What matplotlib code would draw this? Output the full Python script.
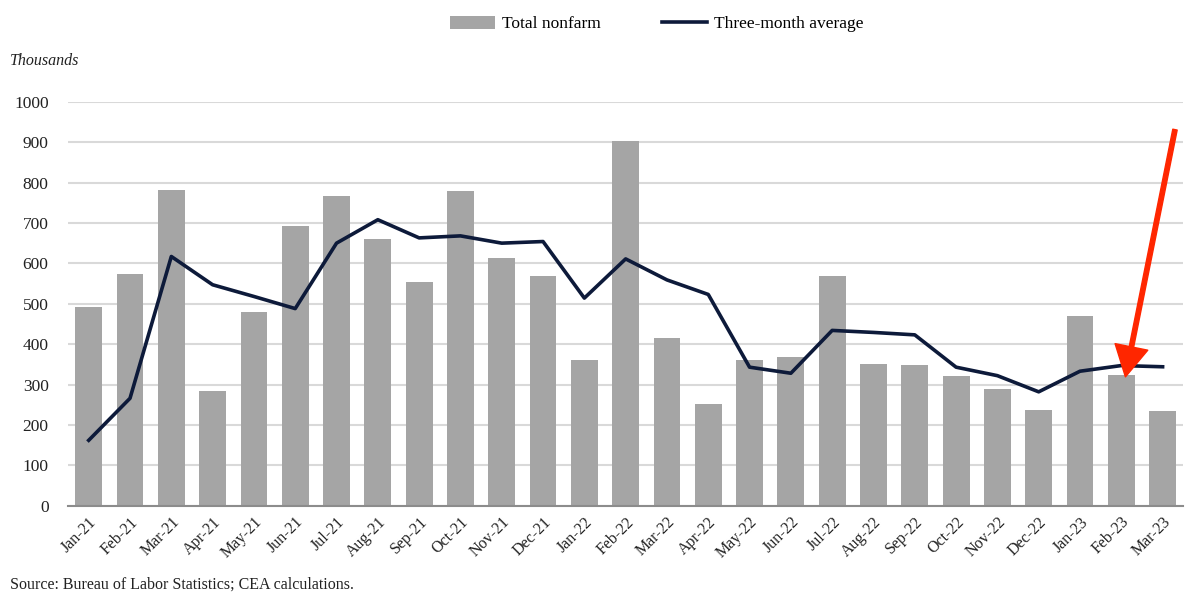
import numpy as np
import matplotlib.pyplot as plt
from matplotlib import rcParams

config = {
    "font.family": ['Liberation Serif', 'DejaVu Serif'],
    "font.size": 11,
}
rcParams.update(config)

months = ['Jan-21', 'Feb-21', 'Mar-21', 'Apr-21', 'May-21', 'Jun-21', 'Jul-21',
          'Aug-21', 'Sep-21', 'Oct-21', 'Nov-21', 'Dec-21', 'Jan-22', 'Feb-22',
          'Mar-22', 'Apr-22', 'May-22', 'Jun-22', 'Jul-22', 'Aug-22', 'Sep-22',
          'Oct-22', 'Nov-22', 'Dec-22', 'Jan-23', 'Feb-23', 'Mar-23']
total_nonfarm = [492, 574, 782, 284, 480, 693, 767, 661, 555, 780, 613, 568, 361,
                 903, 414, 253, 361, 368, 568, 351, 349, 322, 289, 236, 469, 324, 234]
three_month_avg = [162, 266, 617, 547, 518, 488, 650, 708, 663, 668, 650, 654, 514,
                   611, 559, 523, 343, 328, 434, 429, 423, 343, 322, 282, 333, 347, 344]
yticks = list(range(0, 1001, 100))

fig = plt.figure(figsize=(11.94, 5.95), dpi=100)
ax = fig.add_axes([0.057, 0.150, 0.934, 0.679])

x = np.arange(len(months))
bars = ax.bar(x, total_nonfarm, width=0.65, color='#a5a5a5', label='Total nonfarm', zorder=2)
line, = ax.plot(x, three_month_avg, color='#0d1a3a', lw=2.6, label='Three-month average', zorder=3)

ax.set_xlim(-0.5, len(months) - 0.5)
ax.set_ylim(0, 1000)
ax.set_yticks(yticks)
ax.set_yticklabels([str(v) for v in yticks], fontsize=12.5, color='#222222')
ax.set_xticks(x)
ax.set_xticklabels(months, rotation=45, ha='right', rotation_mode='anchor',
                   fontsize=11.5, color='#222222')
ax.tick_params(axis='both', length=0)
ax.tick_params(axis='y', pad=14)
ax.tick_params(axis='x', pad=6)
ax.grid(axis='y', color='#d9d9d9', lw=1.5, zorder=0)
for s in ['top', 'right', 'left']:
    ax.spines[s].set_visible(False)
ax.spines['bottom'].set_color('#8c8c8c')
ax.spines['bottom'].set_linewidth(1.5)
ax.spines['bottom'].set_zorder(4)

# red arrow pointing at Feb-23
ax.annotate('', xy=(25.1, 319), xytext=(26.3, 931),
            arrowprops=dict(width=3.2, headwidth=24, headlength=22,
                            color='#ff2600', shrink=0),
            zorder=5)

fig.legend([bars, line], ['Total nonfarm', 'Three-month average'],
           loc='upper center', bbox_to_anchor=(0.55, 1.0), ncol=2, frameon=False,
           fontsize=12.5, handlelength=2.6, handleheight=0.8, columnspacing=3.5,
           handletextpad=0.4)

fig.text(0.008, 0.8975, 'Thousands', style='italic', fontsize=11.5, color='#222222',
         va='center')
fig.text(0.008, 0.017, 'Source: Bureau of Labor Statistics; CEA calculations.',
         fontsize=11.5, color='#222222', va='center')

fig.savefig('out.png', dpi=100)
